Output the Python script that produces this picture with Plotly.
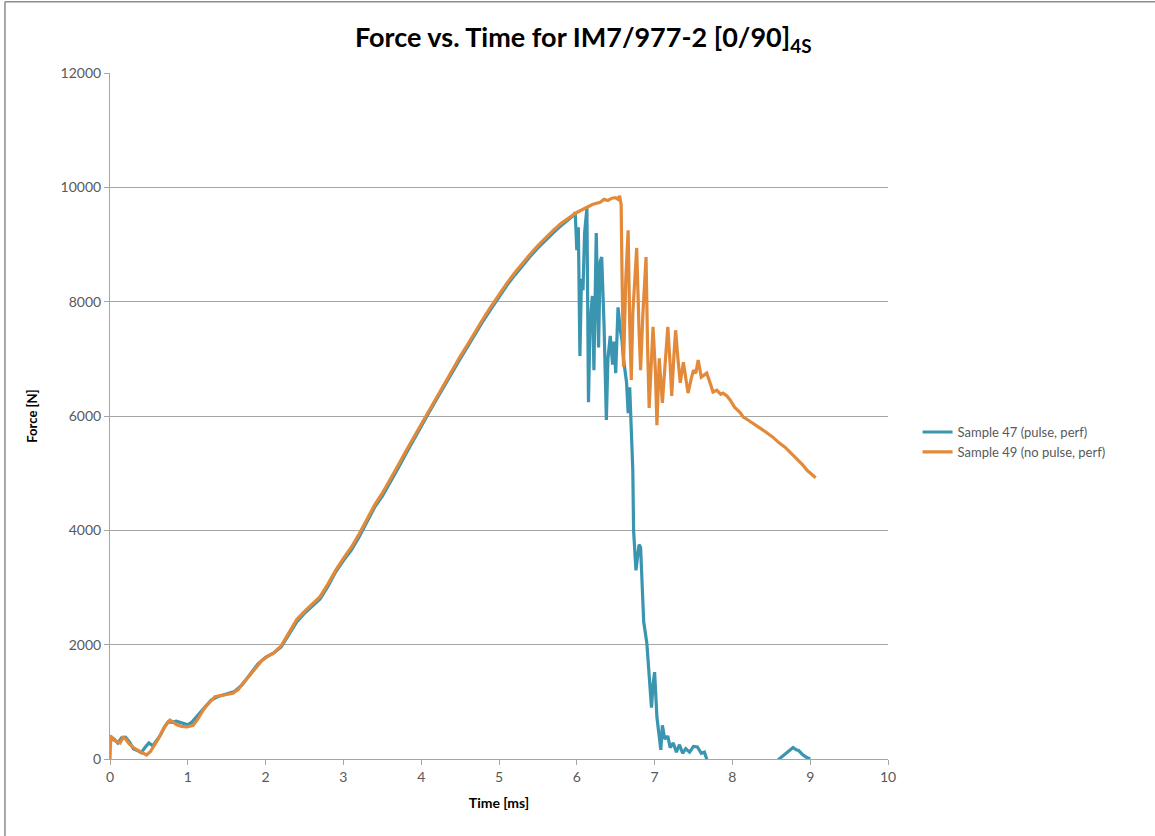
import plotly.graph_objects as go

# Sample 47 (pulse, perf): time [ms] and force [N]
t47 = [0, 0.02, 0.05, 0.1, 0.15, 0.2, 0.25, 0.3, 0.35, 0.4, 0.45, 0.5, 0.55, 0.6, 0.65,
       0.7, 0.75, 0.8, 0.85, 0.9, 0.95, 1.0, 1.05, 1.1, 1.2, 1.3, 1.4, 1.5, 1.6, 1.7,
       1.8, 1.9, 2.0, 2.1, 2.2, 2.3, 2.4, 2.5, 2.6, 2.7, 2.8, 2.9, 3.0, 3.1, 3.2, 3.3,
       3.4, 3.5, 3.6, 3.7, 3.8, 3.9, 4.0, 4.1, 4.2, 4.3, 4.4, 4.5, 4.6, 4.7, 4.8, 4.9,
       5.0, 5.1, 5.2, 5.3, 5.4, 5.5, 5.6, 5.7, 5.8, 5.9, 5.95, 5.98, 6.0, 6.02, 6.04,
       6.06, 6.08, 6.1, 6.13, 6.15, 6.17, 6.2, 6.22, 6.25, 6.28, 6.3, 6.32, 6.35, 6.38,
       6.4, 6.43, 6.46, 6.48, 6.5, 6.53, 6.56, 6.58, 6.6, 6.64, 6.66, 6.68, 6.72, 6.73,
       6.76, 6.78, 6.8, 6.82, 6.84, 6.86, 6.9, 6.94, 6.96, 6.98, 7.0, 7.03, 7.06, 7.08,
       7.1, 7.13, 7.17, 7.2, 7.24, 7.28, 7.32, 7.36, 7.4, 7.45, 7.5, 7.55, 7.6, 7.64,
       7.67, 7.7, 8.0, 8.3, 8.55, 8.6, 8.65, 8.7, 8.75, 8.78, 8.82, 8.85, 8.9, 8.95, 9.0]
f47 = [250, 380, 350, 280, 370, 380, 300, 180, 150, 110, 200, 280, 230, 330, 420,
       560, 650, 640, 660, 640, 620, 600, 640, 720, 880, 1030, 1100, 1140, 1180, 1300,
       1480, 1660, 1780, 1850, 1960, 2180, 2400, 2550, 2680, 2800, 3020, 3270, 3470, 3650, 3880, 4150,
       4400, 4600, 4830, 5080, 5330, 5580, 5810, 6060, 6300, 6540, 6770, 7000, 7220, 7450, 7670, 7880,
       8090, 8280, 8460, 8630, 8790, 8940, 9080, 9210, 9330, 9440, 9500, 9560, 8900, 9300, 7050,
       8400, 8200, 9200, 9640, 6240, 7600, 8100, 6800, 9200, 7200, 8700, 8780, 7600, 5930,
       7000, 7400, 6900, 7300, 6750, 7900, 7500, 7330, 7000, 6580, 6050, 6500, 5050, 4000,
       3300, 3600, 3750, 3700, 2900, 2400, 2030, 1300, 900, 1300, 1520, 730, 400, 160,
       590, 350, 400, 200, 280, 120, 250, 100, 180, 120, 220, 210, 100, 120,
       0, -100, -100, -100, -100, 0, 60, 120, 170, 200, 160, 150, 80, 30, 0]

# Sample 49 (no pulse, perf): time [ms] and force [N]
t49 = [0, 0.01, 0.05, 0.1, 0.13, 0.17, 0.2, 0.25, 0.3, 0.36, 0.42, 0.47, 0.52, 0.56, 0.62,
       0.68, 0.73, 0.77, 0.82, 0.86, 0.92, 0.99, 1.07, 1.13, 1.2, 1.27, 1.35, 1.45, 1.58, 1.65,
       1.71, 1.8, 1.89, 1.95, 2.02, 2.1, 2.2, 2.3, 2.4, 2.5, 2.6, 2.7, 2.8, 2.9, 3.0, 3.1,
       3.2, 3.3, 3.4, 3.5, 3.6, 3.7, 3.8, 3.9, 4.0, 4.1, 4.2, 4.3, 4.4, 4.5, 4.6, 4.7,
       4.8, 4.9, 5.0, 5.1, 5.2, 5.3, 5.4, 5.5, 5.6, 5.7, 5.8, 5.9, 6.0, 6.1, 6.2, 6.3,
       6.35, 6.4, 6.45, 6.5, 6.53, 6.55, 6.57, 6.58, 6.6, 6.63, 6.66, 6.68, 6.7, 6.72, 6.74,
       6.77, 6.8, 6.82, 6.85, 6.89, 6.91, 6.93, 6.96, 6.98, 7.01, 7.03, 7.06, 7.08, 7.1,
       7.14, 7.17, 7.2, 7.22, 7.25, 7.27, 7.3, 7.33, 7.37, 7.4, 7.43, 7.47, 7.5, 7.53,
       7.56, 7.6, 7.67, 7.72, 7.75, 7.8, 7.85, 7.88, 7.93, 7.97, 8.03, 8.1, 8.14, 8.2,
       8.28, 8.35, 8.42, 8.52, 8.6, 8.68, 8.74, 8.82, 8.9, 8.96, 9.02, 9.07]
f49 = [0, 400, 330, 300, 280, 380, 350, 260, 200, 150, 100, 70, 130, 210, 350,
       510, 620, 680, 640, 600, 570, 560, 590, 700, 860, 980, 1090, 1120, 1150, 1220,
       1330, 1470, 1610, 1720, 1790, 1850, 1980, 2220, 2440, 2580, 2710, 2840, 3060, 3300, 3510, 3700,
       3930, 4200, 4440, 4650, 4880, 5130, 5380, 5620, 5860, 6100, 6340, 6580, 6810, 7040, 7260, 7490,
       7710, 7920, 8130, 8320, 8500, 8670, 8830, 8980, 9120, 9250, 9370, 9470, 9560, 9630, 9700, 9740,
       9790, 9770, 9810, 9820, 9790, 9850, 9700, 8600, 6860, 8400, 9250, 7600, 6630, 7800, 8300,
       8940, 7500, 6800, 7800, 8780, 7200, 6140, 7000, 7560, 6800, 5840, 7010, 6600, 6230,
       7000, 7560, 6900, 6350, 7100, 7500, 7000, 6580, 6940, 6700, 6400, 6650, 6800, 6750,
       6980, 6680, 6750, 6550, 6420, 6450, 6380, 6400, 6350, 6280, 6150, 6060, 5980, 5930,
       5860, 5790, 5730, 5630, 5530, 5450, 5370, 5260, 5150, 5050, 4970, 4920]

FONT = "Lato"
GRAY_TEXT = "#595959"
AXIS_GRAY = "#a6a6a6"

fig = go.Figure()
fig.add_trace(go.Scatter(x=t47, y=f47, mode="lines", name="Sample 47 (pulse, perf)",
                         line=dict(color="#3a95b0", width=3.2)))
fig.add_trace(go.Scatter(x=t49, y=f49, mode="lines", name="Sample 49 (no pulse, perf)",
                         line=dict(color="#e38a3a", width=3.2)))

fig.update_layout(
    width=1155, height=836,
    margin=dict(l=110, r=267, t=73, b=77),
    paper_bgcolor="white", plot_bgcolor="white",
    font=dict(family=FONT, color=GRAY_TEXT, size=14),
    title=dict(text="<b>Force vs. Time for IM7/977-2 [0/90]<sub>4S</sub></b>",
               x=0.505, xanchor="center", xref="container", y=0.955, yanchor="middle",
               font=dict(family=FONT, size=27, color="#000000")),
    xaxis=dict(range=[0, 10], dtick=1, tick0=0, showgrid=False, zeroline=False,
               showline=True, linecolor=AXIS_GRAY, linewidth=1,
               ticks="outside", ticklen=5, tickcolor=AXIS_GRAY,
               tickfont=dict(size=14, color=GRAY_TEXT),
               title=dict(text="<b>Time [ms]</b>", font=dict(size=14, color="#000000"), standoff=14)),
    yaxis=dict(range=[0, 12000], dtick=2000, tick0=0, tickformat="d",
               showgrid=True, gridcolor=AXIS_GRAY,
               gridwidth=1, zeroline=False, showline=True, linecolor=AXIS_GRAY, linewidth=1,
               ticks="outside", ticklen=5, tickcolor=AXIS_GRAY,
               tickfont=dict(size=14, color=GRAY_TEXT),
               title=dict(text="<b>Force [N]</b>", font=dict(size=13, color="#000000"), standoff=20)),
    legend=dict(x=1.038, y=0.462, xanchor="left", yanchor="middle",
                font=dict(size=13, color=GRAY_TEXT), bgcolor="rgba(0,0,0,0)",
                tracegroupgap=4),
    showlegend=True,
)

# chart frame (left and top edges)
fig.add_shape(type="line", xref="paper", yref="paper", x0=-0.135, x1=-0.135, y0=1.104, y1=-0.12,
              line=dict(color="#8c8c8c", width=1.5))
fig.add_shape(type="line", xref="paper", yref="paper", x0=-0.135, x1=1.35, y0=1.104, y1=1.104,
              line=dict(color="#8c8c8c", width=1.5))

fig.write_html("out.html")
